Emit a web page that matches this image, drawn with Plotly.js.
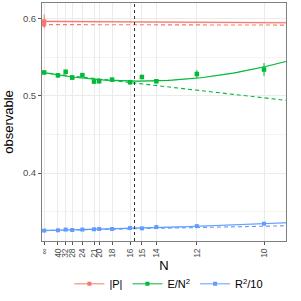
<!DOCTYPE html>
<html><head><meta charset="utf-8">
<script src="https://cdn.plot.ly/plotly-3.0.1.min.js"></script>
<style>html,body{margin:0;padding:0;background:#fff}#chart{width:301px;height:301px}</style>
</head><body><div id="chart"></div>
<script>
// Lattice sizes N; x axis is 1/N^2 (N = infinity -> 0)
const Nvals = [Infinity, 40, 32, 28, 24, 21, 20, 18, 16, 15, 14, 12, 10];
const tickLabels = ['∞','40','32','28','24','21','20','18','16','15','14','12','10'];
// E/N^2 data
const energy = [0.5304, 0.5266, 0.5313, 0.5237, 0.5270, 0.5186, 0.5190, 0.5211, 0.5177, 0.5245, 0.5190, 0.5284, 0.5342];
const energyErr = [0.0025, 0.003, 0.003, 0.0025, 0.0025, 0.003, 0.003, 0.0025, 0.003, 0.003, 0.003, 0.005, 0.0085];
// R^2/10 data
const radius = [0.3253, 0.3257, 0.3266, 0.3261, 0.3266, 0.3270, 0.3274, 0.3274, 0.3286, 0.3282, 0.3299, 0.3311, 0.3342];
const radiusErr = [0.0005,0.0005,0.0005,0.0005,0.0005,0.0005,0.0005,0.0005,0.0005,0.0005,0.0005,0.0006,0.0008];
// |P| extrapolated values at N = infinity
const polVals = [0.5968, 0.5927];
const polErr = [0.009, 0.003];
// Fit coefficients in u = 100/N^2 : a + b*u + c*u^2
const fitPolSolid = [0.5966, -0.0016, 0];
const fitPolDashed = [0.5925, -0.0006, 0];
const fitEnergySolid = [0.5300, -0.04987, 0.05747];
const fitEnergyDashed = [0.5300, -0.0325, 0];
const fitRadiusSolid = [0.3253, 0.0060, 0.0029];
const fitRadiusDashed = [0.3253, 0.0057, 0];
const bandHalf = {pol: 0.0012, energy: 0.0008, radius: 0.0008};
const Ncut = 15.6;

const col = {r:'#F8766D', g:'#00BA38', b:'#619CFF'};
const xs = Nvals.map(n => n === Infinity ? 0 : 1/(n*n));
const xFit = []; for (let i = 0; i <= 60; i++) xFit.push(-0.0001 + i*(0.0111)/60);
const ev = (c, x) => { const u = x*100; return c[0] + c[1]*u + c[2]*u*u; };

const traces = [];
function band(c, h, color) {
  const up = xFit.map(x => ev(c,x)+h), lo = xFit.map(x => ev(c,x)-h);
  traces.push({x: xFit.concat(xFit.slice().reverse()), y: up.concat(lo.slice().reverse()),
    fill:'toself', fillcolor: color, line:{width:0}, mode:'lines', hoverinfo:'skip', showlegend:false});
}
function line(c, color, dash) {
  traces.push({x: xFit, y: xFit.map(x => ev(c, x)), mode:'lines',
    line:{color, width:1.1, dash}, showlegend:false, hoverinfo:'skip'});
}
band(fitPolSolid, bandHalf.pol, 'rgba(248,118,109,0.3)');
band(fitEnergySolid, bandHalf.energy, 'rgba(0,186,56,0.2)');
band(fitRadiusSolid, bandHalf.radius, 'rgba(97,156,255,0.3)');
line(fitPolSolid, col.r, 'solid'); line(fitPolDashed, col.r, '4px,3px');
line(fitEnergySolid, col.g, 'solid'); line(fitEnergyDashed, col.g, '4px,3px');
line(fitRadiusSolid, col.b, 'solid'); line(fitRadiusDashed, col.b, '4px,3px');

traces.push({x: polVals.map(()=>0), y: polVals, mode:'markers', marker:{color:col.r, size:4, symbol:'square'},
  error_y:{type:'data', array: polErr, color: col.r, thickness:1, width:0}, showlegend:false});
traces.push({x: xs, y: energy, mode:'markers', marker:{color:col.g, size:4.5, symbol:'square'},
  error_y:{type:'data', array: energyErr, color: col.g, thickness:1, width:0}, showlegend:false});
traces.push({x: xs, y: radius, mode:'markers', marker:{color:col.b, size:4, symbol:'square'},
  error_y:{type:'data', array: radiusErr, color: col.b, thickness:1, width:0}, showlegend:false});

// legend entries
[['|P|',col.r],['E/N<sup>2</sup>',col.g],['R<sup>2</sup>/10',col.b]].forEach(([n,c]) => {
  traces.push({x:[null], y:[null], mode:'lines+markers', name:n, line:{color:c, width:1},
    marker:{color:c, size:4, symbol:'square'}, showlegend:true});
});

const layout = {
  width:301, height:301, margin:{l:42, r:15, t:3, b:54},
  paper_bgcolor:'#fff', plot_bgcolor:'#fff',
  font:{family:'Liberation Sans, Arial, sans-serif', color:'#4D4D4D'},
  showlegend:true,
  legend:{orientation:'h', x:0.52, xanchor:'center', y:-0.18, yanchor:'middle',
    font:{size:11, color:'#000'}, itemwidth:24, tracegroupgap:0},
  xaxis:{range:[-0.0001, 0.011], tickmode:'array', tickvals: xs, ticktext: tickLabels,
    tickangle:-90, tickfont:{size:8.5, color:'#4D4D4D'}, ticks:'outside', ticklen:3, tickcolor:'#555',
    showgrid:true, gridcolor:'#EBEBEB', gridwidth:1, zeroline:false,
    showline:true, linecolor:'#7f7f7f', linewidth:1, mirror:true,
    title:{text:'N', font:{size:13, color:'#000'}, standoff:4}},
  yaxis:{range:[0.3118, 0.6205], tickmode:'array', tickvals:[0.4,0.5,0.6], ticktext:['0.4','0.5','0.6'],
    tickfont:{size:9.5, color:'#4D4D4D'}, ticks:'outside', ticklen:3, tickcolor:'#555',
    showgrid:true, gridcolor:'#EBEBEB', zeroline:false,
    minor:{tickvals:[0.35,0.45,0.55], showgrid:true, gridcolor:'#F4F4F4', ticklen:0},
    showline:true, linecolor:'#7f7f7f', linewidth:1, mirror:true,
    title:{text:'observable', font:{size:13, color:'#000'}, standoff:6}},
  shapes:[{type:'line', xref:'x', yref:'paper', x0:1/(Ncut*Ncut), x1:1/(Ncut*Ncut), y0:0, y1:1,
    line:{color:'#333', width:1, dash:'3px,3px'}}]
};
Plotly.newPlot('chart', traces, layout, {staticPlot:true, displayModeBar:false});
</script></body></html>
